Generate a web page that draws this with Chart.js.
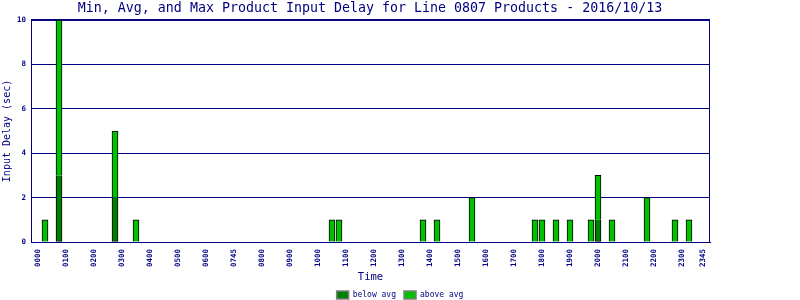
<!DOCTYPE html>
<html>
<head>
<meta charset="utf-8">
<script src="https://cdn.jsdelivr.net/npm/chart.js@4/dist/chart.umd.min.js"></script>
<style>
  body { margin: 0; background: #fff; }
  #wrap { width: 800px; height: 300px; }
</style>
</head>
<body>
<div id="wrap"><canvas id="delayChart" width="800" height="300"></canvas></div>
<script>
// --- data ---
const slots = ['0015', '0045', '0245', '0330', '1030', '1045', '1345', '1415', '1530',
               '1745', '1800', '1830', '1900', '1945', '2000', '2030', '2145', '2245', '2315'];
const belowAvg = [0, 3, 2, 0, 0, 0, 0, 0, 0, 0, 0, 0, 0, 0, 1, 0, 0, 0, 0];
const aboveAvg = [1, 7, 3, 1, 1, 1, 1, 1, 2, 1, 1, 1, 1, 1, 2, 1, 2, 1, 1];
const tickLabels = ['0000', '0100', '0200', '0300', '0400', '0500', '0600', '0745', '0800',
                    '0900', '1000', '1100', '1200', '1300', '1400', '1500', '1600', '1700',
                    '1800', '1900', '2000', '2100', '2200', '2300', '2345'];

const NAVY = '#000080';
const MONO = "'DejaVu Sans Mono', 'Liberation Mono', monospace";

// 15 minute slot index of a hhmm label
const slotOf = s => parseInt(s.slice(0, 2), 10) * 4 + parseInt(s.slice(2), 10) / 15;

const toPoints = vals => slots.map((s, i) => ({ x: slotOf(s), y: vals[i] }));

// box round the plot area
const frame = {
    id: 'frame',
    beforeDatasetsDraw(chart) {
        const { ctx, chartArea: a } = chart;
        ctx.save();
        ctx.strokeStyle = NAVY;
        ctx.lineWidth = 1;
        ctx.strokeRect(a.left + 0.5, a.top + 0.5, a.right - a.left - 1, a.bottom - a.top);
        ctx.restore();
    }
};

// legend strip thin and centred on the page, title centred on the plot
const placeBlocks = {
    id: 'placeBlocks',
    beforeLayout(chart) {
        const lg = chart.legend;
        if (lg && !lg._patched) {
            const fit = lg.fit;
            lg.fit = function () { fit.call(this); this.height = 17; };
            lg._patched = true;
        }
    },
    afterLayout(chart) {
        if (chart.legend) { chart.legend.left = 0; chart.legend.right = 800; chart.legend.width = 800; }
        if (chart.titleBlock) { chart.titleBlock.left = 0; chart.titleBlock.right = 740; chart.titleBlock.width = 740; }
    }
};

new Chart(document.getElementById('delayChart'), {
    type: 'bar',
    data: {
        datasets: [
            {
                label: 'below avg',
                data: toPoints(belowAvg),
                backgroundColor: '#008000',
                borderColor: '#000000',
                borderWidth: 1,
                borderSkipped: 'end',
                barThickness: 6
            },
            {
                label: 'above avg',
                data: toPoints(aboveAvg),
                backgroundColor: '#00c000',
                borderColor: '#000000',
                borderWidth: 1,
                borderSkipped: 'start',
                barThickness: 6
            }
        ]
    },
    plugins: [frame, placeBlocks],
    options: {
        responsive: false,
        animation: false,
        layout: { padding: { left: 0, right: 90, top: 0, bottom: 0 } },
        plugins: {
            title: {
                display: true,
                text: 'Min, Avg, and Max Product Input Delay for Line 0807 Products - 2016/10/13',
                color: NAVY,
                font: { family: MONO, size: 13.3, weight: 'normal' },
                padding: { top: 1, bottom: 3 }
            },
            legend: {
                position: 'bottom',
                labels: {
                    color: NAVY,
                    font: { family: MONO, size: 8 },
                    boxWidth: 12,
                    boxHeight: 8,
                    padding: 8,
                    generateLabels(chart) {
                        return Chart.defaults.plugins.legend.labels.generateLabels(chart)
                            .map(l => ({ ...l, strokeStyle: '#808080', lineWidth: 1.5 }));
                    }
                }
            },
            tooltip: { enabled: false }
        },
        scales: {
            x: {
                type: 'linear',
                stacked: true,
                offset: false,
                min: -1,
                max: 96,
                grid: { display: false, drawTicks: false },
                border: { color: NAVY },
                afterBuildTicks(scale) {
                    scale.ticks = tickLabels.map((t, i) => ({ value: i < tickLabels.length - 1 ? i * 4 : 95 }));
                },
                afterFit(scale) { scale.height = 41; },
                ticks: {
                    color: NAVY,
                    autoSkip: false,
                    maxRotation: 90,
                    minRotation: 90,
                    padding: 7,
                    font: { family: MONO, size: 7.5, weight: 'bold' },
                    callback(value, index) { return tickLabels[index]; }
                },
                title: {
                    display: true,
                    text: 'Time',
                    color: NAVY,
                    font: { family: MONO, size: 10.5, lineHeight: 1 },
                    padding: { top: 0, bottom: 0 }
                }
            },
            y: {
                stacked: true,
                min: 0,
                max: 10,
                afterFit(scale) { scale.width = 31; },
                grid: { color: NAVY, drawTicks: false },
                border: { color: NAVY },
                ticks: {
                    stepSize: 2,
                    color: NAVY,
                    padding: 5,
                    font: { family: MONO, size: 7.5, weight: 'bold' }
                },
                title: {
                    display: true,
                    text: 'Input Delay (sec)',
                    color: NAVY,
                    font: { family: MONO, size: 10 },
                    padding: { top: 1.5, bottom: 0 }
                }
            }
        }
    }
});
</script>
</body>
</html>
